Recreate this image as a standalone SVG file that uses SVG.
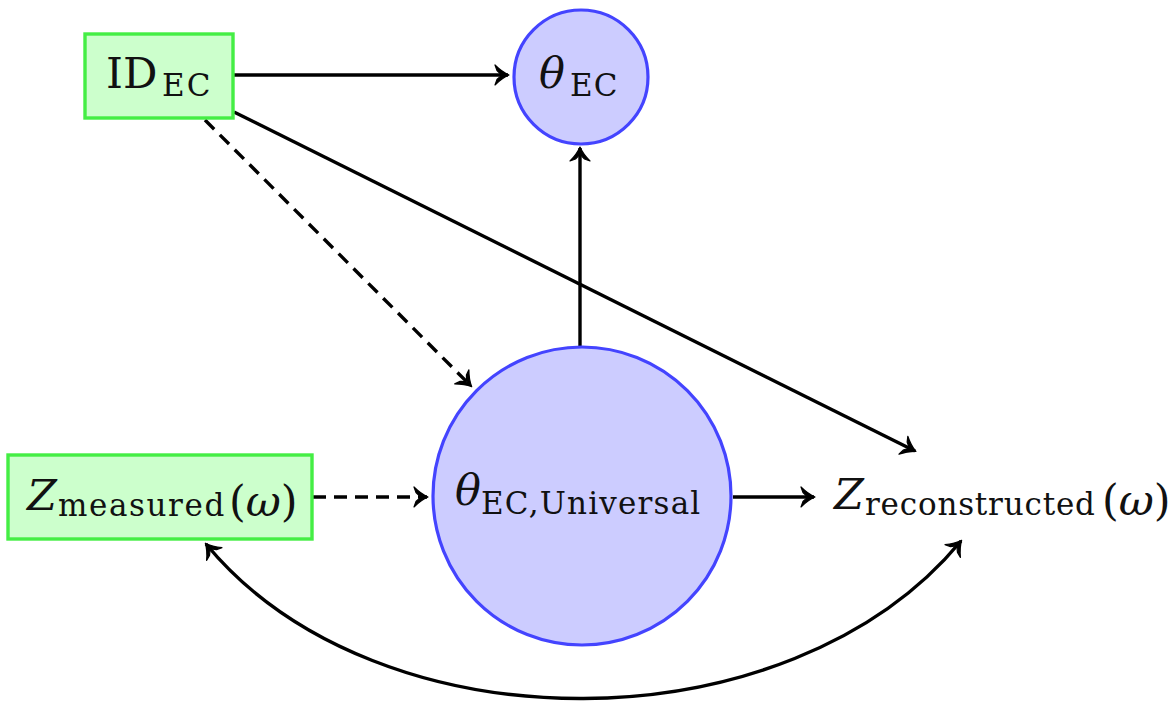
<svg xmlns="http://www.w3.org/2000/svg" width="1175" height="702" viewBox="0 0 1175 702">
<style>
.box{fill:#ccffcc;stroke:#44ee44;stroke-width:3.4}
.circ{fill:#ccccff;stroke:#4444ff;stroke-width:3.2}
.edge{fill:none;stroke:#000;stroke-width:3.4}
.dash{stroke-dasharray:13 8}
.t{font-family:"DejaVu Serif","Liberation Serif",serif;fill:#111}
.main{font-size:43px}
.it{font-style:italic}
.sub{font-size:31px}
</style>
<defs>
<marker id="arr" viewBox="-16 -12 20 24" markerWidth="20" markerHeight="24" refX="0" refY="0" orient="auto-start-reverse" markerUnits="userSpaceOnUse">
<path d="M1,0 Q-6,-3 -13,-10 L-11,-4.5 Q-8.5,-1.5 -5,0 Q-8.5,1.5 -11,4.5 L-13,10 Q-6,3 1,0Z" fill="#000" stroke="#000" stroke-width="1.2" stroke-linejoin="round"/>
</marker>
</defs>
<g id="connectors">
<path class="edge" d="M233,75 L508,75" marker-end="url(#arr)"/>
<path class="edge" d="M234,112 L915,451" marker-end="url(#arr)"/>
<path class="edge dash" d="M205,120 L471,386" marker-end="url(#arr)"/>
<path class="edge" d="M580,347 L580,148" marker-end="url(#arr)"/>
<path class="edge dash" d="M313,497 L427,497" marker-end="url(#arr)"/>
<path class="edge" d="M733,497 L814,497" marker-end="url(#arr)"/>
<path class="edge" d="M206,544 C378,752 789,749 961,541" marker-start="url(#arr)" marker-end="url(#arr)"/>
</g>
<g id="node-id-ec">
<rect class="box" x="85" y="34" width="148" height="84"/>
<text class="t main" y="88"><tspan x="106">ID</tspan><tspan class="sub" x="162" y="96" letter-spacing="2.2">EC</tspan></text>
</g>
<g id="node-theta-ec">
<circle class="circ" cx="581" cy="77" r="67"/>
<text class="t main" y="88"><tspan class="it" x="539">θ</tspan><tspan class="sub" x="570" y="96" letter-spacing="1">EC</tspan></text>
</g>
<g id="node-theta-universal">
<circle class="circ" cx="582" cy="496" r="149"/>
<text class="t main" y="505"><tspan class="it" x="455">θ</tspan><tspan class="sub" x="481" y="514" letter-spacing="1.2">EC,Universal</tspan></text>
</g>
<g id="node-z-measured">
<rect class="box" x="8" y="455" width="304" height="84"/>
<text class="t main" y="510"><tspan class="it" x="27">Z</tspan><tspan class="sub" x="58" y="516" letter-spacing="1.6">measured</tspan><tspan x="229">(</tspan><tspan class="it">ω</tspan><tspan>)</tspan></text>
</g>
<g id="node-z-reconstructed">
<text class="t main" y="509"><tspan class="it" x="834">Z</tspan><tspan class="sub" x="865" y="515" letter-spacing="0.8">reconstructed</tspan><tspan x="1102">(</tspan><tspan class="it">ω</tspan><tspan>)</tspan></text>
</g>
</svg>
